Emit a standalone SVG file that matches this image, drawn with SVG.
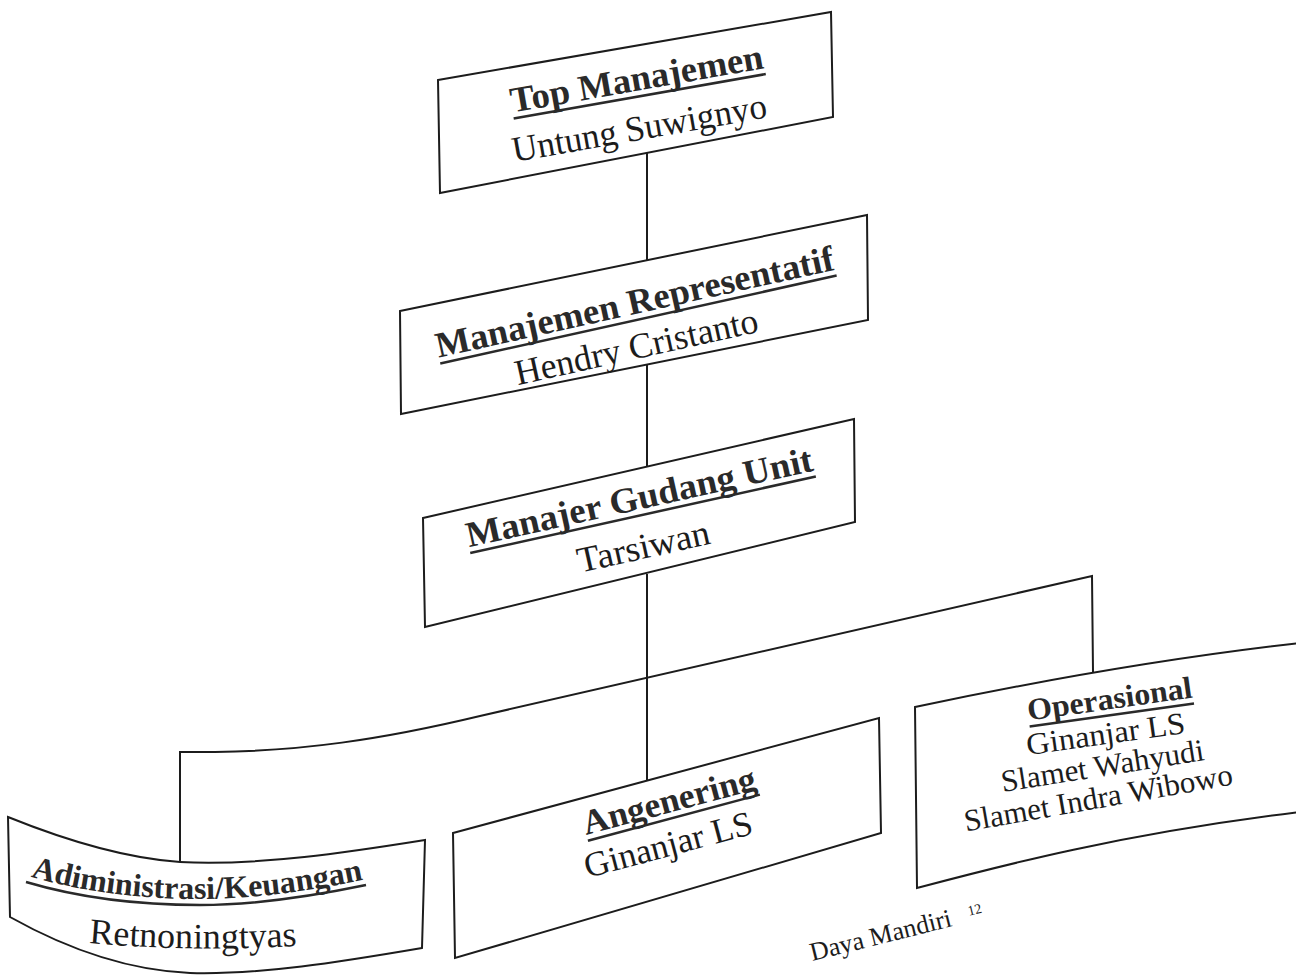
<svg xmlns="http://www.w3.org/2000/svg" width="1296" height="975" viewBox="0 0 1296 975">
<defs>
<style>
.box{fill:#fff;stroke:#1c1c1c;stroke-width:2;stroke-linejoin:miter}
.con{fill:none;stroke:#1c1c1c;stroke-width:2}
.ttl{font-family:"Liberation Serif","Times New Roman",serif;font-weight:bold;fill:#2a2a2a;text-anchor:middle}
.nm{font-family:"Liberation Serif","Times New Roman",serif;fill:#1c1c1c;text-anchor:middle}
.ul{stroke:#2a2a2a;stroke-width:2.5;fill:none}
.ft{font-family:"Liberation Serif","Times New Roman",serif;fill:#1c1c1c}
</style>
<path id="admPath" d="M22,874 C 80,892 140,899 200,899 C 260,899 320,889 372,878"/>
<path id="retPath" d="M78,942 C 150,949 230,951 308,945"/>
</defs>
<rect x="0" y="0" width="1296" height="975" fill="#fff"/>

<g id="connectors">
<line class="con" x1="647" y1="153" x2="647" y2="260"/>
<line class="con" x1="647" y1="364" x2="647" y2="466"/>
<line class="con" x1="647" y1="574" x2="647" y2="781"/>
<path class="con" d="M180,862 L180,752 L215,752 C 300,751 380,740 480,716 L1092,576 L1093,672"/>
</g>

<g id="node-top">
<polygon class="box" points="438,80 831,12 833,117 440,193"/>
<g transform="translate(643,115) rotate(-10)">
<text class="ttl" x="0" y="-25" font-size="36" textLength="256" lengthAdjust="spacingAndGlyphs">Top Manajemen</text>
<line class="ul" x1="-128" y1="-19" x2="128" y2="-19"/>
<text class="nm" x="-6" y="24" font-size="36" textLength="258" lengthAdjust="spacingAndGlyphs">Untung Suwignyo</text>
</g>
</g>

<g id="node-mr">
<polygon class="box" points="400,311 867,215 868,320 401,414"/>
<g transform="translate(638,336) rotate(-12.5)">
<text class="ttl" x="4" y="-22" font-size="36" textLength="407" lengthAdjust="spacingAndGlyphs">Manajemen Representatif</text>
<line class="ul" x1="-199" y1="-16" x2="207" y2="-16"/>
<text class="nm" x="-4" y="22" font-size="36" textLength="248" lengthAdjust="spacingAndGlyphs">Hendry Cristanto</text>
</g>
</g>

<g id="node-mgu">
<polygon class="box" points="423,518 854,419 855,522 425,627"/>
<g transform="translate(644,533) rotate(-12.5)">
<text class="ttl" x="3" y="-24" font-size="36" textLength="354" lengthAdjust="spacingAndGlyphs">Manajer Gudang Unit</text>
<line class="ul" x1="-174" y1="-18" x2="180" y2="-18"/>
<text class="nm" x="-3.5" y="25" font-size="36" textLength="135" lengthAdjust="spacingAndGlyphs">Tarsiwan</text>
</g>
</g>

<g id="node-adm">
<path class="box" d="M8,817 C 60,838 120,858 180,862 C 260,866 350,852 425,840 L422,948 C 340,962 260,975 190,973 C 120,970 60,945 10,917 Z"/>
<text class="ttl" font-size="32"><textPath href="#admPath" startOffset="50%">Adiministrasi/Keuangan</textPath></text>
<path class="ul" d="M26,882 C 80,898 140,905 200,905 C 260,905 318,895 366,885"/>
<text class="nm" font-size="36"><textPath href="#retPath" startOffset="50%">Retnoningtyas</textPath></text>
</g>

<g id="node-ang">
<polygon class="box" points="453,833 879,718 881,833 455,958"/>
<g transform="translate(671,834) rotate(-15)">
<text class="ttl" x="6.7" y="-21" font-size="35" textLength="178" lengthAdjust="spacingAndGlyphs">Angenering</text>
<line class="ul" x1="-82" y1="-15" x2="96" y2="-15"/>
<text class="nm" x="-5.6" y="21" font-size="35" textLength="173" lengthAdjust="spacingAndGlyphs">Ginanjar LS</text>
</g>
</g>

<g id="node-ops">
<path class="box" d="M1300,643 C 1150,660 1000,689 915,707 L917,888 C 1000,866 1120,834 1300,812"/>
<g transform="translate(1111,709) rotate(-8)">
<text class="ttl" x="0" y="0" font-size="31" textLength="166" lengthAdjust="spacingAndGlyphs">Operasional</text>
<line class="ul" x1="-83" y1="6" x2="83" y2="6"/>
</g>
<text class="nm" font-size="31" textLength="160" lengthAdjust="spacingAndGlyphs" transform="translate(1107,744) rotate(-8)">Ginanjar LS</text>
<text class="nm" font-size="31" textLength="205" lengthAdjust="spacingAndGlyphs" transform="translate(1104,776) rotate(-9)">Slamet Wahyudi</text>
<text class="nm" font-size="31" textLength="272" lengthAdjust="spacingAndGlyphs" transform="translate(1100,808) rotate(-10)">Slamet Indra Wibowo</text>
</g>

<g id="footer" transform="translate(953,926) rotate(-14)">
<text class="ft" x="0" y="0" font-size="26" text-anchor="end">Daya Mandiri</text>
<text class="ft" x="18" y="-6" font-size="14">12</text>
</g>
</svg>
